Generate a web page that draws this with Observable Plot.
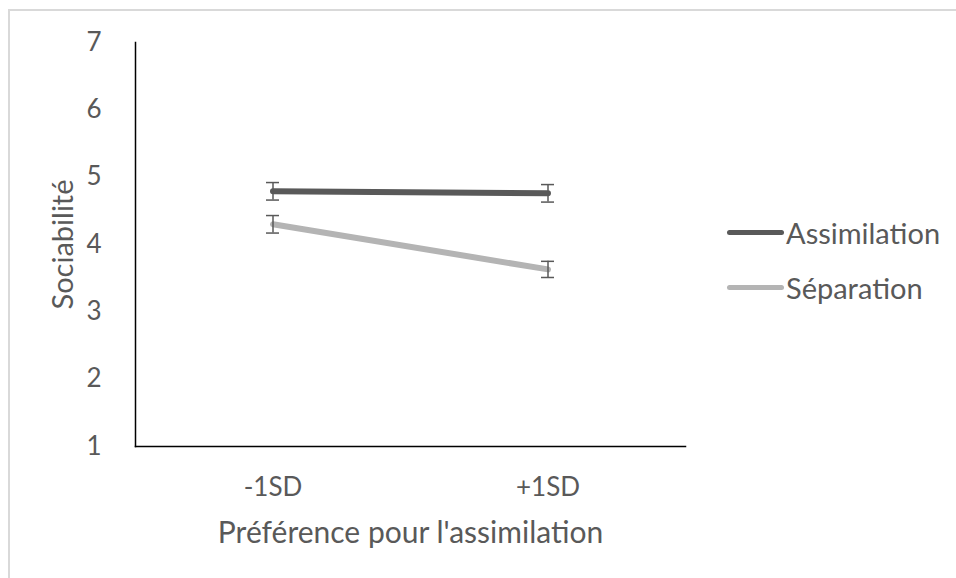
<!DOCTYPE html>
<html>
<head>
<meta charset="utf-8">
<script src="https://cdn.jsdelivr.net/npm/d3@7"></script>
<script src="https://cdn.jsdelivr.net/npm/@observablehq/plot@0.6"></script>
<style>
  html, body { margin: 0; padding: 0; background: #fff; overflow: hidden; width: 956px; height: 578px; }
  #wrap { position: relative; width: 956px; height: 578px; }
  #border { position: absolute; left: 8px; top: 9px; width: 1000px; height: 1000px; border-left: 2px solid #d9d9d9; border-top: 2px solid #d9d9d9; }
  #chart { position: absolute; left: 0; top: 0; }
  #legend { position: absolute; left: 727px; top: 205px; font-family: Lato, sans-serif; font-size: 29px; color: #595959; }
  .item { display: flex; align-items: center; height: 55px; }
  .swatch { width: 57px; height: 5px; border-radius: 3px; margin-right: 2px; }
</style>
</head>
<body>
<div id="wrap">
  <div id="border"></div>
  <div id="chart"></div>
  <div id="legend"></div>
</div>
<script>
const categories = ["-1SD", "+1SD"];
const seriesNames = ["Assimilation", "Séparation"];
const assimilation = [4.79, 4.76];
const separation = [4.30, 3.63];
const assimilationErr = [0.13, 0.13];
const separationErr = [0.13, 0.12];
const yTicks = [1, 2, 3, 4, 5, 6, 7];
const colors = ["#595959", "#b4b4b4"];

const rows = [];
categories.forEach((c, i) => {
  rows.push({cat: c, series: seriesNames[0], v: assimilation[i], e: assimilationErr[i]});
  rows.push({cat: c, series: seriesNames[1], v: separation[i], e: separationErr[i]});
});

const font = "Lato, sans-serif";
const plot = Plot.plot({
  width: 956,
  height: 578,
  marginLeft: 135,
  marginRight: 271,
  marginTop: 42,
  marginBottom: 132,
  style: {fontFamily: font, fontSize: "26px", color: "#595959", background: "transparent"},
  x: {domain: categories, padding: 0, label: null},
  y: {domain: [1, 7], label: null},
  color: {domain: seriesNames, range: colors},
  marks: [
    Plot.axisY({ticks: yTicks, tickFormat: d3.format("d"), tickSize: 0, tickPadding: 34, fontSize: 26, fill: "#595959", label: null}),
    Plot.axisX({tickSize: 0, tickPadding: 31, fontSize: 26, fill: "#595959", label: null}),
    Plot.text(["Préférence pour l'assimilation"], {frameAnchor: "bottom", textAnchor: "middle", dy: 96, fontSize: 30, fill: "#595959"}),
    Plot.text(["Sociabilité"], {frameAnchor: "left", textAnchor: "middle", dx: -72, rotate: -90, fontSize: 29, fill: "#595959"}),
    Plot.frame({anchor: "left", stroke: "#000", strokeWidth: 1.5}),
    Plot.frame({anchor: "bottom", stroke: "#000", strokeWidth: 1.5}),
    Plot.line(rows, {x: "cat", y: "v", z: "series", stroke: "series", strokeWidth: 6, strokeLinecap: "round"}),
    Plot.ruleX(rows, {x: "cat", y1: d => d.v - d.e, y2: d => d.v + d.e, stroke: "#595959", strokeWidth: 1.5}),
    Plot.tickY(rows, {x: "cat", y: d => d.v - d.e, stroke: "#595959", strokeWidth: 1.5, inset: 131}),
    Plot.tickY(rows, {x: "cat", y: d => d.v + d.e, stroke: "#595959", strokeWidth: 1.5, inset: 131})
  ]
});
document.getElementById("chart").appendChild(plot);

const legend = document.getElementById("legend");
seriesNames.forEach((s, i) => {
  const item = document.createElement("div");
  item.className = "item";
  const sw = document.createElement("div");
  sw.className = "swatch";
  sw.style.background = colors[i];
  const t = document.createElement("span");
  t.textContent = s;
  item.appendChild(sw);
  item.appendChild(t);
  legend.appendChild(item);
});
</script>
</body>
</html>
